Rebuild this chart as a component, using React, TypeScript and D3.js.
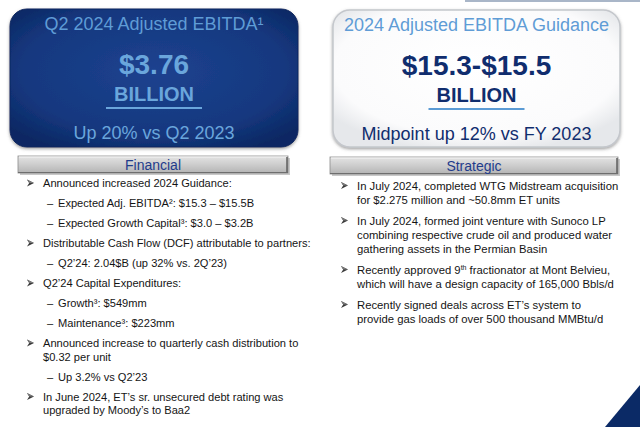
import React from "react";
import * as d3 from "d3";

const W = 640;
const H = 427;
const FONT = "'Liberation Sans', Arial, Helvetica, sans-serif";

// ---- content ----
const cardTitles = ["Q2 2024 Adjusted EBITDA¹", "2024 Adjusted EBITDA Guidance"];
const cardValues = ["$3.76", "$15.3-$15.5"];
const cardUnits = ["BILLION", "BILLION"];
const cardNotes = ["Up 20% vs Q2 2023", "Midpoint up 12% vs FY 2023"];
const sectionTitles = ["Financial", "Strategic"];

type Line = { level: 0 | 1; text: string; cont?: boolean };

const financialLines: Line[] = [
  { level: 0, text: "Announced increased 2024 Guidance:" },
  { level: 1, text: "Expected Adj. EBITDA²: $15.3 – $15.5B" },
  { level: 1, text: "Expected Growth Capital³: $3.0 – $3.2B" },
  { level: 0, text: "Distributable Cash Flow (DCF) attributable to partners:" },
  { level: 1, text: "Q2’24: 2.04$B (up 32% vs. 2Q’23)" },
  { level: 0, text: "Q2’24 Capital Expenditures:" },
  { level: 1, text: "Growth³: $549mm" },
  { level: 1, text: "Maintenance³: $223mm" },
  { level: 0, text: "Announced increase to quarterly cash distribution to" },
  { level: 0, text: "$0.32 per unit", cont: true },
  { level: 1, text: "Up 3.2% vs Q2’23" },
  { level: 0, text: "In June 2024, ET’s sr. unsecured debt rating was" },
  { level: 0, text: "upgraded by Moody’s to Baa2", cont: true },
];

const strategicLines: Line[] = [
  { level: 0, text: "In July 2024, completed WTG Midstream acquisition" },
  { level: 0, text: "for $2.275 million and ~50.8mm ET units", cont: true },
  { level: 0, text: "In July 2024, formed joint venture with Sunoco LP" },
  { level: 0, text: "combining respective crude oil and produced water", cont: true },
  { level: 0, text: "gathering assets in the Permian Basin", cont: true },
  { level: 0, text: "Recently approved 9^th fractionator at Mont Belvieu," },
  { level: 0, text: "which will have a design capacity of 165,000 Bbls/d", cont: true },
  { level: 0, text: "Recently signed deals across ET’s system to" },
  { level: 0, text: "provide gas loads of over 500 thousand MMBtu/d", cont: true },
];

// ---- layout helpers ----
function lineYs(lines: Line[], start: number, step: number, contStep: number) {
  const steps = lines.map((l, i) => (i === 0 ? 0 : l.cont ? contStep : step));
  return Array.from(d3.cumsum(steps), (s) => start + s);
}

function renderText(t: string) {
  const parts = t.split(/\^(\w+)/);
  return parts.map((p, i) =>
    i % 2 === 1 ? (
      <tspan key={i} fontSize={7} dy={-4}>
        {p}
      </tspan>
    ) : (
      <tspan key={i} dy={i > 0 ? 4 : 0}>
        {p}
      </tspan>
    )
  );
}

function Arrow({ x, y }: { x: number; y: number }) {
  return (
    <g transform={`translate(${x},${y})`}>
      <path d="M0,-3.6 L7,0 L0,3.6 L2.2,0 Z" fill="#3a3a3a" />
      <path d="M0,-3.6 L7,0 L2.2,0 Z" fill="#7a7a7a" />
    </g>
  );
}

function BulletList({
  lines,
  ys,
  arrowX,
  textX,
  dashX,
  subX,
  fontSize,
}: {
  lines: Line[];
  ys: number[];
  arrowX: number;
  textX: number;
  dashX: number;
  subX: number;
  fontSize: number;
}) {
  return (
    <g fontFamily={FONT} fontSize={fontSize} fill="#141414">
      {lines.map((l, i) => {
        const y = ys[i];
        if (l.level === 1) {
          return (
            <g key={i}>
              <text x={dashX} y={y}>–</text>
              <text x={subX} y={y}>{renderText(l.text)}</text>
            </g>
          );
        }
        return (
          <g key={i}>
            {!l.cont && <Arrow x={arrowX} y={y - 4} />}
            <text x={textX} y={y}>{renderText(l.text)}</text>
          </g>
        );
      })}
    </g>
  );
}

function SectionBar({ x, y, w, h, label }: { x: number; y: number; w: number; h: number; label: string }) {
  return (
    <g>
      <rect x={x + 2} y={y + 2} width={w} height={h} fill="#9a9a9a" opacity={0.55} />
      <rect x={x} y={y} width={w} height={h} fill="url(#barGrad)" stroke="#8c8c8c" strokeWidth={0.8} />
      <line x1={x + 1} y1={y + 1} x2={x + w - 1} y2={y + 1} stroke="#f4f4f4" strokeWidth={1} />
      <line x1={x + w - 1} y1={y + 1} x2={x + w - 1} y2={y + h} stroke="#5e5e5e" strokeWidth={1.5} />
      <line x1={x} y1={y + h - 0.5} x2={x + w} y2={y + h - 0.5} stroke="#6e6e6e" strokeWidth={1} />
      <text
        x={x + w / 2}
        y={y + h - 3.5}
        textAnchor="middle"
        fontFamily={FONT}
        fontSize={14}
        fill="#1f3c8c"
      >
        {label}
      </text>
    </g>
  );
}

export default function App() {
  const finYs = lineYs(financialLines, 187, 20, 13.5);
  const strYs = lineYs(strategicLines, 189.5, 21, 14);

  const cards = [
    { x: 10, y: 9, w: 288, h: 138, dark: true },
    { x: 333, y: 10, w: 287, h: 137, dark: false },
  ];

  const cardY = d3
    .scaleOrdinal<string, number>()
    .domain(["title", "value", "unit", "rule", "note"])
    .range([21, 65, 92, 99, 130]);

  return (
    <div style={{ position: "absolute", left: 0, top: 0, margin: 0 }}>
      <svg width={W} height={H} viewBox={`0 0 ${W} ${H}`} style={{ display: "block", background: "#ffffff" }}>
        <defs>
          <radialGradient id="darkGrad" cx="50%" cy="45%" r="65%">
            <stop offset="0%" stopColor="#1d428f" />
            <stop offset="70%" stopColor="#15387f" />
            <stop offset="100%" stopColor="#0b2863" />
          </radialGradient>
          <radialGradient id="lightGrad" cx="50%" cy="42%" r="62%">
            <stop offset="0%" stopColor="#ffffff" />
            <stop offset="80%" stopColor="#fbfbfc" />
            <stop offset="100%" stopColor="#e6e8eb" />
          </radialGradient>
          <linearGradient id="barGrad" x1="0" y1="0" x2="0" y2="1">
            <stop offset="0%" stopColor="#e4e4e4" />
            <stop offset="50%" stopColor="#cdcdcd" />
            <stop offset="100%" stopColor="#b4b4b4" />
          </linearGradient>
          <filter id="cardShadow" x="-10%" y="-10%" width="120%" height="130%">
            <feDropShadow dx="0" dy="1.5" stdDeviation="1.6" floodColor="#555" floodOpacity="0.55" />
          </filter>
        </defs>

        <rect x={465} y={0} width={175} height={2} fill="#a9b6c8" />

        {cards.map((c, i) => {
          const cx = c.x + c.w / 2;
          const titleColor = "#5f9cd6";
          const mainColor = c.dark ? "#6aa6dc" : "#102d6e";
          return (
            <g key={i}>
              <rect
                x={c.x}
                y={c.y}
                width={c.w}
                height={c.h}
                rx={17}
                ry={17}
                fill={c.dark ? "url(#darkGrad)" : "url(#lightGrad)"}
                stroke={c.dark ? "#0a2660" : "#c4c7cc"}
                strokeWidth={c.dark ? 1 : 1.5}
                filter="url(#cardShadow)"
              />
              <text x={cx} y={c.y + cardY("title")} textAnchor="middle" fontFamily={FONT} fontSize={18} fill={titleColor}>
                {cardTitles[i]}
              </text>
              <text x={cx} y={c.y + cardY("value")} textAnchor="middle" fontFamily={FONT} fontWeight="bold" fontSize={28} fill={mainColor}>
                {cardValues[i]}
              </text>
              <text x={cx} y={c.y + cardY("unit")} textAnchor="middle" fontFamily={FONT} fontWeight="bold" fontSize={20} fill={mainColor}>
                {cardUnits[i]}
              </text>
              <line
                x1={cx - 48}
                x2={cx + 48}
                y1={c.y + cardY("rule")}
                y2={c.y + cardY("rule")}
                stroke={c.dark ? "#6aa6dc" : "#5b9bd5"}
                strokeWidth={2}
              />
              <text x={cx} y={c.y + cardY("note")} textAnchor="middle" fontFamily={FONT} fontSize={18} fill={mainColor}>
                {cardNotes[i]}
              </text>
            </g>
          );
        })}

        <SectionBar x={18} y={156} w={270} h={17} label={sectionTitles[0]} />
        <SectionBar x={330} y={157} w={288} h={17} label={sectionTitles[1]} />

        <BulletList lines={financialLines} ys={finYs} arrowX={27} textX={43} dashX={47} subX={58} fontSize={11.1} />
        <BulletList lines={strategicLines} ys={strYs} arrowX={341} textX={357} dashX={361} subX={372} fontSize={11.3} />

        <path d="M605,427 L640,385 L640,427 Z" fill="#0b2a66" />
      </svg>
    </div>
  );
}
